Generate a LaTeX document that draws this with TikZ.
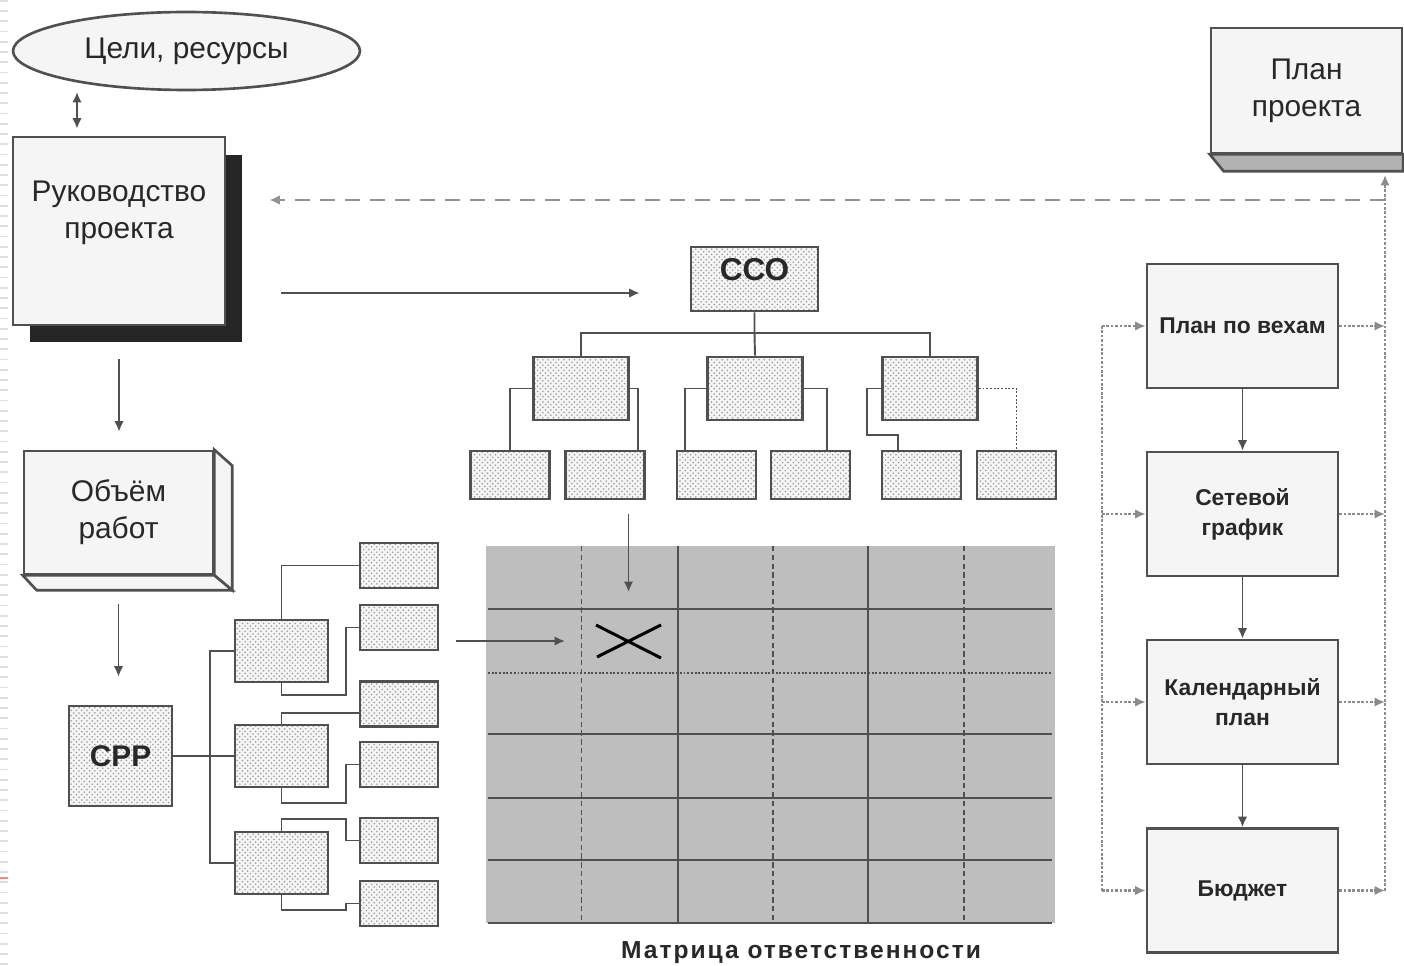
\documentclass[tikz,border=0pt]{standalone}
\usepackage{fontspec}
\setmainfont{Liberation Sans}
\usepackage{tikz}
\usetikzlibrary{arrows.meta,calc,shapes.geometric,shadows,patterns}
\definecolor{edge}{RGB}{80,80,80}
\definecolor{paper}{RGB}{245,245,245}
\definecolor{cell}{RGB}{190,190,190}
\definecolor{ink}{RGB}{40,40,40}

\begin{document}
\begin{tikzpicture}[x=0.02cm,y=-0.02cm,line width=1.1pt,color=edge]
\tikzstyle{T}=[align=center,text=ink,font=\fontsize{17}{21}\selectfont]
\tikzstyle{B}=[T,draw=edge,line width=1.5pt,fill=paper]
\tikzstyle{P}=[B,font=\fontsize{13}{17}\selectfont\bfseries,minimum width=3.82cm,minimum height=2.48cm]
\tikzstyle{D}=[T,draw=edge,line width=1.5pt,preaction={fill=paper},pattern=crosshatch dots,
pattern color=gray!80,font=\fontsize{17}{21}\selectfont\bfseries]
\tikzstyle{A}=[-{Latex[length=2.1mm,width=1.9mm]},draw=edge]
\tikzstyle{AA}=[{Latex[length=2.1mm,width=1.9mm]}-{Latex[length=2.1mm,width=1.9mm]},draw=edge]
\tikzstyle{bus}=[draw=gray!90,densely dotted,line width=1.5pt]
\useasboundingbox (0,0) rectangle (1404,966);
\draw[gray!25,line width=0.16cm,dash pattern=on 0.035cm off 0.17cm] (4,0) -- (4,966);
\draw[red!50,line width=0.04cm] (0,878) -- (8,878);

% left column
\node[B,ellipse,minimum width=6.94cm,minimum height=1.56cm] (goal) at (186.5,51) {Цели, ресурсы};
\node[B,minimum width=4.24cm,minimum height=3.76cm,
drop shadow={shadow xshift=0.34cm,shadow yshift=-0.35cm,fill=black!85,opacity=1}] (ruk) at (119,231) {};
\node[T] (rukt) at (119,213) {Руководство\\проекта};
\coordinate (ga) at (77,92);
\draw[AA,shorten >=0.14cm] (ga) -- (ga |- ruk.north);

\node[B,minimum width=3.78cm,minimum height=2.46cm] (obj) at (118.5,512.5) {Объём\\работ};
\filldraw[fill=paper,draw=edge,line width=1.5pt] (obj.north east) -- ++(18,16)
  -- ([shift={(18,15)}]obj.south east) -- (obj.south east) -- cycle;
\filldraw[fill=paper,draw=edge,line width=1.5pt] (obj.south west) -- (obj.south east)
  -- ++(18,15) -- ([shift={(14,15)}]obj.south west) -- cycle;
\draw[A,shorten <=0.66cm,shorten >=0.36cm] (ruk.south) -- (ruk.south |- obj.north);

% work breakdown (CPP)
\node[D,minimum width=2.06cm,minimum height=2cm] (srp) at (120.5,756) {СРР};
\draw[A,shorten <=0.58cm,shorten >=0.56cm] (obj.south) -- (obj.south |- srp.north);
\foreach \n/\y in {r1/651,r2/756,r3/863}
  \node[D,minimum width=1.86cm,minimum height=1.24cm] (\n) at (281.5,\y) {};
\foreach \n/\y in {s1/565.5,s2/627.5,s3/704,s4/764.5,s5/840.5,s6/903.5}
  \node[D,minimum width=1.56cm,minimum height=0.9cm] (\n) at (399,\y) {};
\coordinate (sb) at (210,756);
\draw (srp.east) -- (sb) -- (r2.west);
\draw (r1.west) -| (sb) |- (r3.west);
\draw (r1.north) |- (s1.west);
\draw (r1.south) |- (346,695) |- (s2.west);
\draw (r2.north) |- ([yshift=-0.18cm]s3.west);
\draw (r2.south) |- (346,803) |- (s4.west);
\draw (r3.north) |- (346,819) |- (s5.west);
\draw (r3.south) |- (346,910) |- (s6.west);

% CCO tree
\node[D,minimum width=2.54cm,minimum height=1.28cm] (sco) at (754.5,279) {};
\node[T,font=\fontsize{18}{21}\selectfont\bfseries] (scot) at (754.5,270) {ССО};
\foreach \n/\x in {w1/581,w2/755,w3/930}
  \node[D,minimum width=1.9cm,minimum height=1.26cm] (\n) at (\x,388.5) {};
\foreach \n/\x in {l1/510,l2/605,l3/716.5,l4/810.5,l5/921.5,l6/1016.5}
  \node[D,minimum width=1.58cm,minimum height=0.96cm] (\n) at (\x,475) {};
\coordinate (tb) at (754.5,333);
\draw (sco.south) -- (tb) -- (w2.north);
\draw (w1.north) |- (tb) -| (w3.north);
\draw (w1.west) -| (l1.north);
\draw (w1.east) -| ([xshift=0.66cm]l2.north);
\draw (w2.west) -| ([xshift=-0.63cm]l3.north);
\draw (w2.east) -| ([xshift=0.33cm]l4.north);
\draw (w3.west) -| (867,435) -| ([xshift=-0.47cm]l5.north);
\draw[densely dotted] (w3.east) -| (l6.north);
\coordinate (h1) at (0,293);
\draw[A,shorten <=1.1cm,shorten >=1.0cm] (ruk.east |- h1) -- (sco.west |- h1);

% matrix
\fill[cell] (486,546) rectangle (1055,923);
\foreach \y in {609,734,798,860,923} \draw (488,\y) -- (1052,\y);
\draw[densely dotted] (488,673) -- (1052,673);
\foreach \x in {678,868} \draw (\x,546) -- (\x,923);
\foreach \x in {581.5,773,964} \draw[densely dashed] (\x,546) -- (\x,923);
\coordinate (cx) at (628.5,641);
\draw[black,line width=1.7pt] (596,625) -- (661,658) (597,657) -- (661,625);
\draw[A,shorten <=0.28cm,shorten >=0.98cm] (l2.south -| cx) -- (cx);
\draw[A,shorten <=0.34cm,shorten >=1.27cm] (s2.east |- cx) -- (cx);
\node[T,font=\fontsize{14}{17}\selectfont\bfseries\addfontfeature{LetterSpace=8}] (mcap) at (801,953)
  {Матрица ответственности};

% plan column
\node[B,minimum width=3.82cm,minimum height=2.5cm] (plan) at (1306.5,90.5) {План\\проекта};
\filldraw[fill=gray!60,draw=edge,line width=1.5pt] (plan.south west) -- (plan.south east)
  -- ++(0,17) -- ([shift={(14,17)}]plan.south west) -- cycle;
\node[P] (veh) at (1242.5,326) {План по вехам};
\node[P] (set) at (1242.5,514) {Сетевой\\график};
\node[P] (kal) at (1242.5,702) {Календарный\\план};
\node[P] (bud) at (1242.5,890.5) {Бюджет};
\foreach \a/\b in {veh/set,set/kal,kal/bud} \draw[A] (\a) -- (\b);
\coordinate (lb) at (1102,326);
\coordinate (rb) at (1385,175);
\coordinate (dj) at (1385,200);
\draw[bus] (lb) -- (lb |- bud.west);
\draw[A,bus] (bud.east -| rb) -- (rb);
\foreach \n in {veh,set,kal,bud} {
  \draw[A,bus] (\n.west -| lb) -- (\n.west);
  \draw[A,bus] (\n.east) -- (\n.east -| rb);
}
\draw[A,draw=gray!85,dash pattern=on 0.3cm off 0.2cm,shorten >=0.86cm] (dj) -- (dj -| ruk.east);
\end{tikzpicture}
\end{document}
